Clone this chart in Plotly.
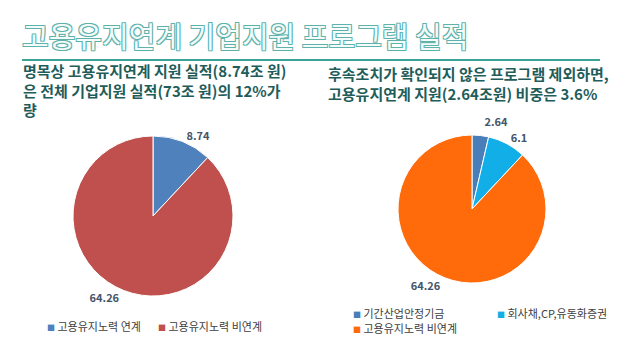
import plotly.graph_objects as go

W, H = 640, 362

# ---- data ----
title_text = "고용유지연계 기업지원 프로그램 실적"
left_subtitle = "명목상 고용유지연계 지원 실적(8.74조 원)<br>은 전체 기업지원 실적(73조 원)의 12%가<br>량"
right_subtitle = "후속조치가 확인되지 않은 프로그램 제외하면,<br>고용유지연계 지원(2.64조원) 비중은 3.6%"

left_labels = ["고용유지노력 연계", "고용유지노력 비연계"]
left_values = [8.74, 64.26]
left_colors = ["#4f81bd", "#c0504d"]

right_labels = ["기간산업안정기금", "회사채,CP,유동화증권", "고용유지노력 비연계"]
right_values = [2.64, 6.1, 64.26]
right_colors = ["#4a7ebb", "#12aee8", "#ff6a0a"]

FONT = "Noto Sans CJK KR"
LABEL_COLOR = "#44556a"


def px(x):
    return x / W


def py(y):
    return 1 - y / H


fig = go.Figure()

fig.add_trace(go.Pie(
    labels=left_labels, values=left_values, sort=False, direction="clockwise",
    rotation=0, textinfo="value", textposition="outside",
    marker=dict(colors=left_colors, line=dict(color="white", width=1)),
    textfont=dict(family=FONT, size=11, color=LABEL_COLOR, weight="bold"),
    domain=dict(x=[px(73), px(233)], y=[py(296), py(136)]),
    showlegend=False, hoverinfo="skip",
))

fig.add_trace(go.Pie(
    labels=right_labels, values=right_values, sort=False, direction="clockwise",
    rotation=0, textinfo="value", textposition="outside",
    marker=dict(colors=right_colors, line=dict(color="white", width=1)),
    textfont=dict(family=FONT, size=11, color=LABEL_COLOR, weight="bold"),
    domain=dict(x=[px(398), px(546)], y=[py(283), py(135)]),
    showlegend=False, hoverinfo="skip",
))

ann = []
outline = "#5db3ac"
ann.append(dict(
    x=px(20), y=py(35), xref="paper", yref="paper", xanchor="left", yanchor="middle",
    text=title_text, showarrow=False,
    font=dict(family=FONT, size=29, color="#f4fbfa",
              shadow=f"-1px -1px 0 {outline}, 1px -1px 0 {outline}, -1px 1px 0 {outline}, 1px 1px 0 {outline}"),
))
ann.append(dict(
    x=px(21), y=py(58), xref="paper", yref="paper", xanchor="left", yanchor="top",
    text=left_subtitle, showarrow=False, align="left",
    font=dict(family=FONT, size=15, color="#1f5d5a", weight="bold"),
))
ann.append(dict(
    x=px(326), y=py(61), xref="paper", yref="paper", xanchor="left", yanchor="top",
    text=right_subtitle, showarrow=False, align="left",
    font=dict(family=FONT, size=15, color="#1f5d5a", weight="bold"),
))


def legend_item(x, y, label, color):
    return dict(
        x=px(x), y=py(y), xref="paper", yref="paper", xanchor="left", yanchor="middle",
        text=f"<span style='color:{color};font-size:8px'>■</span> {label}", showarrow=False,
        font=dict(family=FONT, size=11, color="#404040"),
    )


ann.append(legend_item(45, 326, left_labels[0], left_colors[0]))
ann.append(legend_item(156, 326, left_labels[1], left_colors[1]))
ann.append(legend_item(351, 313, right_labels[0], right_colors[0]))
ann.append(legend_item(495, 313, right_labels[1], right_colors[1]))
ann.append(legend_item(351, 328, right_labels[2], right_colors[2]))

fig.update_layout(
    width=W, height=H, margin=dict(l=0, r=0, t=0, b=0),
    paper_bgcolor="white", plot_bgcolor="white",
    annotations=ann,
    shapes=[dict(type="line", xref="paper", yref="paper", x0=px(22), x1=px(600),
                 y0=py(60), y1=py(60), line=dict(color="#3aa396", width=2))],
)

post = (
    "document.body.style.margin='0';"
    "var s=document.createElement('style');"
    "s.textContent='.textline{display:none}';"
    "document.head.appendChild(s);"
)
fig.write_html("out.html", config={"displayModeBar": False}, post_script=post)
